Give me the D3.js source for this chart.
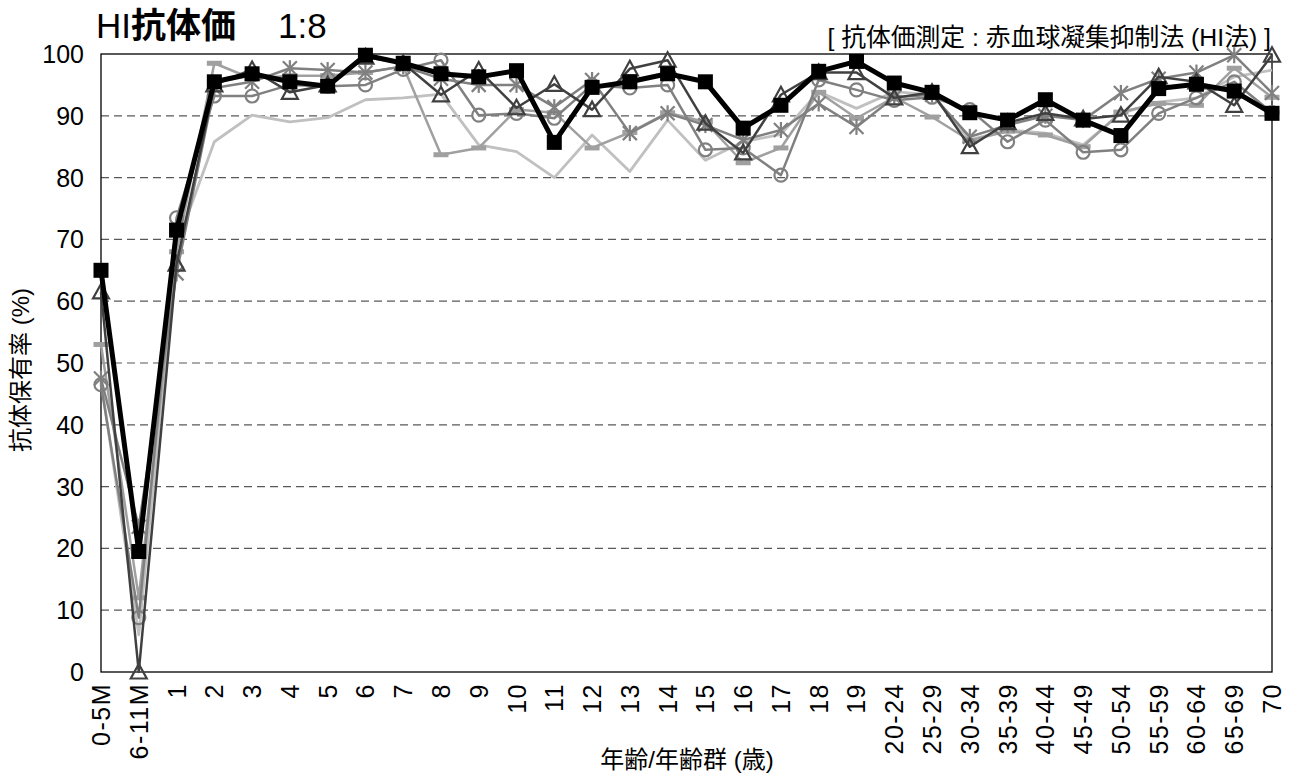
<!DOCTYPE html>
<html><head><meta charset="utf-8">
<script src="https://cdn.jsdelivr.net/npm/d3@7"></script>
<style>
body{margin:0;background:#fff;}
text{font-family:"Liberation Sans","Noto Sans CJK JP",Arial,sans-serif;}
</style></head><body>
<svg id="c" width="1290" height="778"></svg>
<script>
const categories = ["0-5M","6-11M","1","2","3","4","5","6","7","8","9","10","11","12","13","14","15","16","17","18","19","20-24","25-29","30-34","35-39","40-44","45-49","50-54","55-59","60-64","65-69","70"];
const yTicks = [0,10,20,30,40,50,60,70,80,90,100];
const seriesLight  = [47,6,69,85.8,90.1,89,89.7,92.6,92.9,93.5,85.3,84.2,80,86.9,81,89.3,82.8,85.8,87,93.9,91.2,93.9,93.4,86.1,87.7,87.2,85.3,90.4,92.2,92.9,96.3,97.4];
const seriesDash   = [53,12,68,98.5,96,96.5,96.5,97,98,83.7,84.8,91,90.5,84.8,87.3,90.5,89,82.4,84.8,93.8,89.6,93,89.8,86,87.5,86.9,85,90.6,92,91.7,97.7,93];
const seriesCircle = [46.5,8.8,73.5,93.2,93.2,95,94.8,95,97.5,99,90.1,90.4,89.6,95,94.5,95,84.5,84.8,80.4,95.8,94.2,92.5,93,91,85.8,89.3,84.1,84.5,90.4,92.9,95.5,90.5];
const seriesStar   = [47.5,23.5,64.5,94.5,95.5,97.7,97.4,97,98,96,95,95,91.4,95.8,87.2,90.4,88.5,86.1,87.7,92,88.2,93,93.4,86.6,88.5,90,89.3,93.7,96,97,99.8,93.7];
const seriesTri    = [61.5,0,66,95,97.5,93.8,95,99.5,98.5,93.4,97.4,91.3,95.1,91,97.6,99,88.8,84,93.4,97,97,92.9,93.8,85,88.9,90.4,89.5,90.1,96.3,95.5,91.7,99.8];
const seriesBlack  = [65,19.5,71.5,95.5,96.8,95.5,94.8,99.8,98.5,96.8,96.3,97.3,85.7,94.6,95.5,96.8,95.5,88,91.7,97.2,98.8,95.3,93.8,90.5,89.3,92.6,89.3,86.8,94.4,95.1,94,90.4];

const svg = d3.select("#c");
const L=101, R=1272, T=54, B=672;
const x = d3.scalePoint().domain(categories).range([L,R]);
const y = d3.scaleLinear().domain([0,100]).range([B,T]);

// grid
svg.append("g").selectAll("line").data(yTicks.filter(d=>d>0&&d<100)).join("line")
  .attr("x1",L).attr("x2",R).attr("y1",d=>y(d)).attr("y2",d=>y(d))
  .attr("stroke","#595959").attr("stroke-width",1.2).attr("stroke-dasharray","8,5");
// frame
svg.append("rect").attr("x",L).attr("y",T).attr("width",R-L).attr("height",B-T)
  .attr("fill","none").attr("stroke","#000").attr("stroke-width",1.3);

// y axis labels
svg.append("g").selectAll("text").data(yTicks).join("text")
  .attr("x",84).attr("y",d=>y(d)+9).attr("text-anchor","end")
  .attr("font-size",25).attr("fill","#000").text(d=>d);
// x labels
svg.append("g").selectAll("text").data(categories).join("text")
  .attr("transform",d=>`translate(${x(d)+9},683) rotate(-90)`)
  .attr("text-anchor","end").attr("font-size",25).attr("letter-spacing",1.5).attr("fill","#000").text(d=>d);

// titles
const t = svg.append("text").attr("x",96).attr("y",38).attr("font-size",35).attr("fill","#000");
t.append("tspan").text("HI");
t.append("tspan").attr("font-weight","bold").text("抗体価");
svg.append("text").attr("x",278).attr("y",38).attr("font-size",35).text("1:8");
svg.append("text").attr("x",1271).attr("y",46).attr("text-anchor","end").attr("font-size",24.8)
  .text("[ 抗体価測定 : 赤血球凝集抑制法 (HI法) ]");
svg.append("text").attr("transform","translate(29,370) rotate(-90)").attr("text-anchor","middle")
  .attr("font-size",24).text("抗体保有率 (%)");
svg.append("text").attr("x",687).attr("y",768).attr("text-anchor","middle").attr("font-size",24)
  .text("年齢/年齢群 (歳)");

const line = d3.line().x((d,i)=>x(categories[i])).y(d=>y(d));
function drawLine(data,color,w){
  svg.append("path").datum(data).attr("d",line).attr("fill","none")
    .attr("stroke",color).attr("stroke-width",w).attr("stroke-linejoin","round");
}
const pts = data => data.map((v,i)=>({cx:x(categories[i]),cy:y(v)}));

// light gray line, no markers
drawLine(seriesLight,"#c0c0c0",2.8);
// dash markers
drawLine(seriesDash,"#a0a0a0",2.5);
svg.append("g").selectAll("rect").data(pts(seriesDash)).join("rect")
  .attr("x",d=>d.cx-7.5).attr("y",d=>d.cy-2.5).attr("width",15).attr("height",5).attr("fill","#a0a0a0");
// circles
drawLine(seriesCircle,"#808080",2.5);
svg.append("g").selectAll("circle").data(pts(seriesCircle)).join("circle")
  .attr("cx",d=>d.cx).attr("cy",d=>d.cy).attr("r",6.5).attr("fill","none")
  .attr("stroke","#808080").attr("stroke-width",2.2);
// asterisks
drawLine(seriesStar,"#808080",2.5);
const sg = svg.append("g").attr("stroke","#808080").attr("stroke-width",2.2);
pts(seriesStar).forEach(d=>{
  const s=7;
  sg.append("line").attr("x1",d.cx-s).attr("x2",d.cx+s).attr("y1",d.cy-s).attr("y2",d.cy+s);
  sg.append("line").attr("x1",d.cx-s).attr("x2",d.cx+s).attr("y1",d.cy+s).attr("y2",d.cy-s);
  sg.append("line").attr("x1",d.cx).attr("x2",d.cx).attr("y1",d.cy-s-1).attr("y2",d.cy+s+1);
});
// triangles
drawLine(seriesTri,"#404040",2.5);
svg.append("g").selectAll("path").data(pts(seriesTri)).join("path")
  .attr("d",d=>`M${d.cx},${d.cy-8}L${d.cx+8},${d.cy+6.5}L${d.cx-8},${d.cy+6.5}Z`)
  .attr("fill","none").attr("stroke","#404040").attr("stroke-width",2.2);
// black squares
drawLine(seriesBlack,"#000",5);
svg.append("g").selectAll("rect").data(pts(seriesBlack)).join("rect")
  .attr("x",d=>d.cx-7.5).attr("y",d=>d.cy-7.5).attr("width",15).attr("height",15).attr("fill","#000");
</script></body></html>
